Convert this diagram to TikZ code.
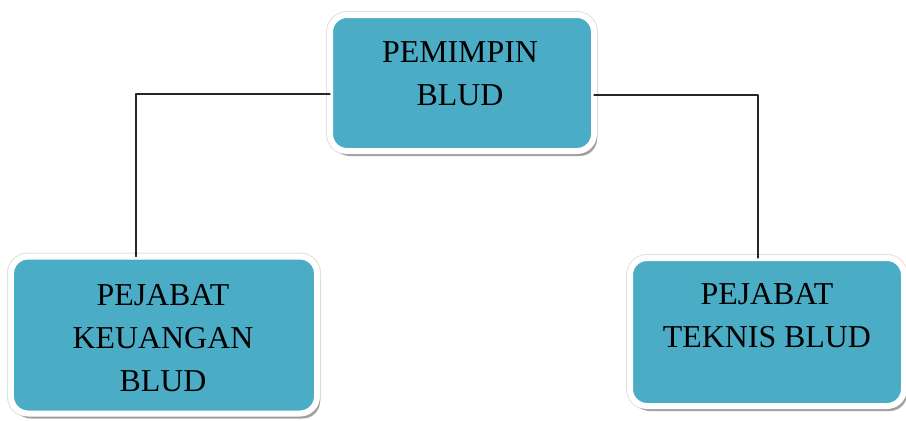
\documentclass[tikz,border=0pt]{standalone}
\usepackage{fontspec}
\setmainfont{Liberation Serif}
\usetikzlibrary{shadows}
\definecolor{bludteal}{RGB}{75,172,198}
\begin{document}
\begin{tikzpicture}[x=1bp,y=-1bp, line join=round, line cap=round,
	unit/.style={rectangle, rounded corners=17bp, fill=bludteal, draw=white, line width=6bp,
		preaction={draw=black!12, line width=8bp},
		drop shadow={shadow xshift=3bp, shadow yshift=-5bp, fill=black!45, opacity=.8}, inner sep=0pt},
	unittext/.style={align=center, font=\fontsize{32}{43}\selectfont, text=black},
	link/.style={draw=black!85, line width=1.1bp}]
	\useasboundingbox (0,0) rectangle (906,420);
	\node[unit, minimum width=264bp, minimum height=136bp] (lead) at (462,83) {};
	\node[unit, minimum width=306bp, minimum height=157bp] (finance) at (164,335) {};
	\node[unit, minimum width=274bp, minimum height=148bp] (tech) at (767,332) {};
	\node[unittext] (leadtext) at (460,74) {PEMIMPIN\\BLUD};
	\node[unittext] (financetext) at (163,338) {PEJABAT\\KEUANGAN\\BLUD};
	\node[unittext] (techtext) at (767,316) {PEJABAT\\TEKNIS BLUD};
	\coordinate (elbowL) at (136,94);
	\coordinate (elbowR) at (758,95);
	\draw[link] ([xshift=3bp]lead.west |- elbowL) -- (elbowL) -- ([yshift=-3bp]elbowL |- finance.north);
	\draw[link] ([xshift=-3bp]lead.east |- elbowR) -- (elbowR) -- ([yshift=-3bp]elbowR |- tech.north);
\end{tikzpicture}
\end{document}
